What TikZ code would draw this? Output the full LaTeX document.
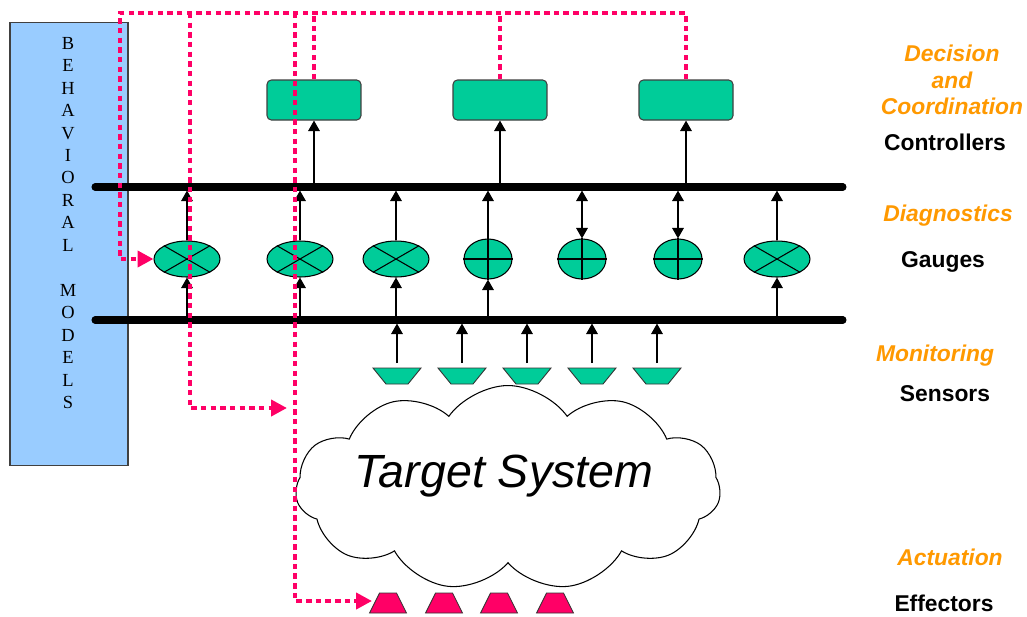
\documentclass[tikz,border=0pt]{standalone}
\usepackage{fontspec}
\setmainfont{Liberation Sans}
\newfontfamily\modelsfont{Liberation Serif}
\usetikzlibrary{shapes.geometric, shapes.symbols, arrows.meta, positioning, calc}

\definecolor{gaugegreen}{RGB}{0,204,153}
\definecolor{modelblue}{RGB}{153,204,255}
\definecolor{tracepink}{RGB}{255,0,102}
\definecolor{layerorange}{RGB}{255,153,0}

\begin{document}
\begin{tikzpicture}[
  x=0.02cm, y=-0.02cm,
  every node/.style={font=\fontsize{13}{15}\selectfont},
  modelbox/.style={rectangle, draw=black!75, fill=modelblue, line width=0.6pt,
                   minimum width=2.36cm, minimum height=8.88cm},
  modelletters/.style={font=\modelsfont\fontsize{10.5}{12.8}\selectfont,
                       align=center, inner sep=0pt},
  ctrl/.style={rectangle, rounded corners=2.5pt, draw=black!75, fill=gaugegreen,
               line width=0.6pt, minimum width=1.88cm, minimum height=0.8cm},
  xgauge/.style={ellipse, draw=black, fill=gaugegreen, line width=0.6pt,
                 inner sep=0pt, minimum width=1.32cm, minimum height=0.72cm},
  pgauge/.style={ellipse, draw=black, fill=gaugegreen, line width=0.6pt,
                 inner sep=0pt, minimum width=0.96cm, minimum height=0.8cm},
  sensor/.style={fill=gaugegreen, draw=black!80, line width=0.5pt},
  effector/.style={fill=tracepink, draw=black!80, line width=0.5pt},
  system/.style={cloud, cloud puffs=11, cloud puff arc=110, aspect=2.1,
                 draw=black, fill=white, line width=0.6pt,
                 minimum width=8.5cm, minimum height=4.1cm},
  bus/.style={line width=4pt, line cap=round},
  arr/.style={-{Triangle[length=6pt,width=6.5pt]}, line width=1.1pt},
  darr/.style={{Triangle[length=6pt,width=6.5pt]}-{Triangle[length=6pt,width=6.5pt]},
               line width=1.1pt},
  trace/.style={tracepink, line width=2.6pt, dash pattern=on 3.1pt off 2.4pt},
  tracearr/.style={trace, -{Triangle[length=9pt,width=9pt]}},
  layer/.style={font=\fontsize{13}{15}\selectfont\bfseries\itshape,
                text=layerorange, align=center},
  role/.style={font=\fontsize{13}{15}\selectfont\bfseries}
]

  \fill[white] (0,0) rectangle (1027,616);
  \useasboundingbox (0,0) rectangle (1027,616);

  % -- Behavioral models column ------------------------------------
  \node[modelbox] (models) at (69,244) {};
  \node[modelletters] (modelstext) at (68,223)
        {B\\E\\H\\A\\V\\I\\O\\R\\A\\L\\\mbox{}\\M\\O\\D\\E\\L\\S};

  % -- Buses ---------------------------------------------------------
  \coordinate (topbus-w)     at (95,187);
  \coordinate (topbus-e)     at (843,187);
  \coordinate (topbus-above) at (95,184);
  \coordinate (topbus-below) at (95,190.5);
  \coordinate (lowbus-w)     at (95,320);
  \coordinate (lowbus-e)     at (843,320);
  \coordinate (lowbus-above) at (95,316.5);
  \coordinate (lowbus-below) at (95,323.5);
  \draw[bus] (topbus-w) -- (topbus-e);
  \draw[bus] (lowbus-w) -- (lowbus-e);

  % -- Controllers ---------------------------------------------------
  \foreach \name/\x in {c1/314, c2/500, c3/686}
    \node[ctrl] (\name) at (\x,100) {};
  \foreach \c in {c1,c2,c3}
    \draw[arr] (\c.south |- topbus-above) -- (\c.south);

  % -- Gauges --------------------------------------------------------
  \foreach \name/\x/\kind in {g1/187/xgauge, g2/300/xgauge, g3/396/xgauge,
                              g4/488/pgauge, g5/582/pgauge, g6/678/pgauge,
                              g7/777/xgauge}
    \node[\kind] (\name) at (\x,259) {};
  \foreach \g in {g1,g2,g3,g7}
    \draw[line width=0.6pt] (\g.30) -- (\g.210) (\g.150) -- (\g.330);
  \foreach \g in {g4,g5,g6}
    \draw[line width=0.6pt] (\g.north) -- (\g.south) (\g.west) -- (\g.east);

  \foreach \g in {g1,g2,g3,g4,g7} {
    \draw[arr] (\g.north) -- (\g.north |- topbus-below);
    \draw[arr] (\g.south |- lowbus-above) -- (\g.south);
  }
  \foreach \g in {g5,g6}
    \draw[darr] (\g.north |- topbus-below) -- (\g.north);

  % -- Target system -------------------------------------------------
  \node[system] (target) at (508,488) {};
  \node[font=\fontsize{26.5}{30}\selectfont\itshape] (targettext) at (504,476)
        {Target System};

  % -- Sensors -------------------------------------------------------
  \foreach \i/\x in {1/397, 2/462, 3/527, 4/592, 5/657} {
    \coordinate (s\i) at (\x,368);
    \filldraw[sensor] ($(s\i)+(-24,0)$) -- ++(48,0) -- ++(-13,16)
                      -- ++(-22,0) -- cycle;
    \draw[arr] ($(s\i)+(0,-5)$) -- (s\i |- lowbus-below);
  }

  % -- Effectors -----------------------------------------------------
  \foreach \i/\x in {1/388, 2/444, 3/499, 4/555} {
    \coordinate (e\i) at (\x,613);
    \filldraw[effector] ($(e\i)+(-18.5,0)$) -- ++(37,0) -- ++(-10,-20)
                        -- ++(-17,0) -- cycle;
  }

  % -- Model traces --------------------------------------------------
  \coordinate (trace-nw) at (120,13);
  \coordinate (trace-a)  at (190,13);
  \coordinate (trace-b)  at (295,13);
  \coordinate (sysin)    at (287,408);
  \coordinate (effin)    at (372,601);
  \draw[tracearr] (c3.north) |- (trace-nw) |- (g1.west);
  \draw[trace] (c2.north) -- (c2.north |- trace-nw);
  \draw[trace] (c1.north) -- (c1.north |- trace-nw);
  \draw[tracearr] (trace-a) |- (sysin);
  \draw[tracearr] (trace-b) |- (effin);

  % -- Layer labels --------------------------------------------------
  \node[layer] (decision)    at (952,80)  {Decision\\and\\Coordination};
  \node[role]  (controllers) at (945,142) {Controllers};
  \node[layer] (diagnostics) at (948,216) {Diagnostics};
  \node[role]  (gauges)      at (943,262) {Gauges};
  \node[layer] (monitoring)  at (935,356) {Monitoring};
  \node[role]  (sensors)     at (945,394) {Sensors};
  \node[layer] (actuation)   at (950,557) {Actuation};
  \node[role]  (effectors)   at (944,603) {Effectors};

\end{tikzpicture}
\end{document}
